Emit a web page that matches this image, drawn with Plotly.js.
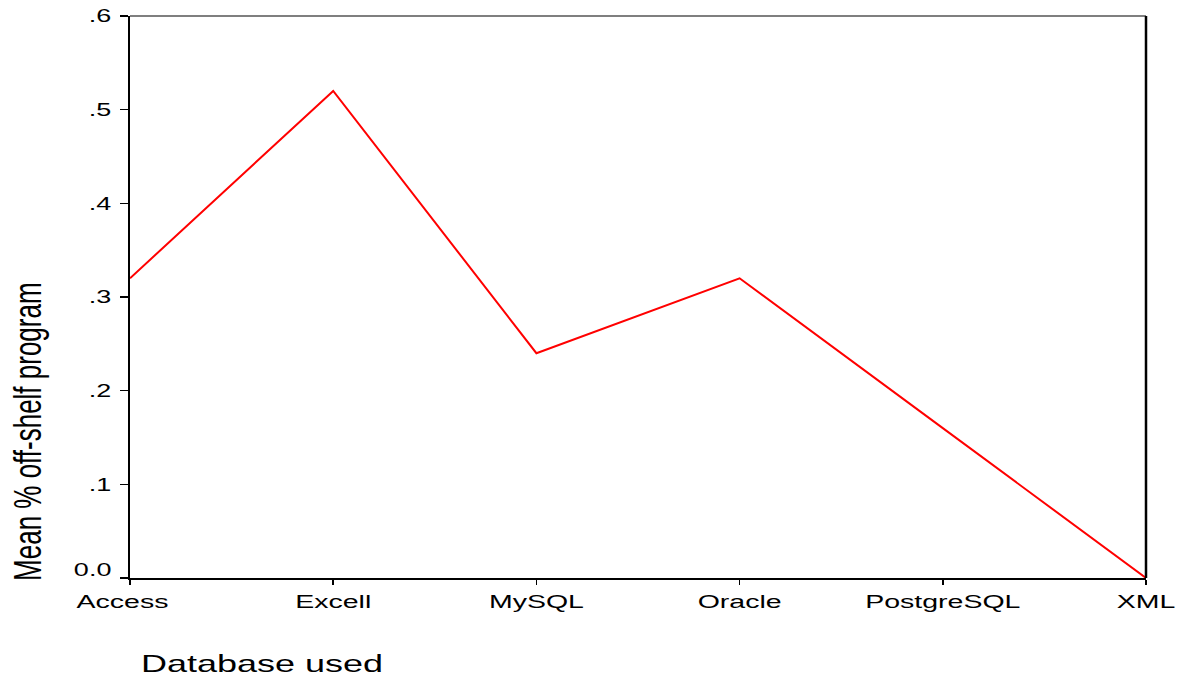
<!DOCTYPE html>
<html>
<head>
<meta charset="utf-8">
<script src="https://cdn.plot.ly/plotly-3.0.1.min.js"></script>
<style>html,body{margin:0;padding:0;background:#fff;}#chart{width:1184px;height:677px;}</style>
</head>
<body>
<div id="chart"></div>
<script>
const categories = ["Access", "Excell", "MySQL", "Oracle", "PostgreSQL", "XML"];
const meanValues = [0.32, 0.52, 0.24, 0.32, 0.16, 0.0];
const yTickVals = [0, 0.1, 0.2, 0.3, 0.4, 0.5, 0.6];
const yTickText = ["0.0", ".1", ".2", ".3", ".4", ".5", ".6"];
const xTitle = "Database used";
const yTitle = "Mean % off-shelf program";

const trace = {
  x: categories,
  y: meanValues,
  type: "scatter",
  mode: "lines",
  line: {color: "#ff0000", width: 2},
  cliponaxis: false,
  hoverinfo: "x+y"
};

const W = 1184, H = 677, L = 130, R = 38, T = 16, B = 99;
const PW = W - L - R, PH = H - T - B;

const layout = {
  width: W,
  height: H,
  margin: {l: L, r: R, t: T, b: B},
  paper_bgcolor: "#ffffff",
  plot_bgcolor: "#ffffff",
  showlegend: false,
  font: {family: "Liberation Sans, Arial, sans-serif", color: "#000", size: 18},
  xaxis: {
    type: "category",
    range: [0, 5],
    showgrid: false,
    zeroline: false,
    showline: true,
    linecolor: "#000",
    linewidth: 2,
    ticks: "outside",
    ticklen: 5,
    tickwidth: 1.5,
    tickcolor: "#000",
    tickfont: {size: 19},
    fixedrange: true
  },
  yaxis: {
    range: [0, 0.6],
    tickvals: yTickVals,
    ticktext: yTickText,
    showgrid: false,
    zeroline: false,
    showline: true,
    linecolor: "#000",
    linewidth: 2,
    ticks: "outside",
    ticklen: 8,
    tickwidth: 1.5,
    tickcolor: "#000",
    tickfont: {size: 18},
    ticklabelstandoff: 5,
    fixedrange: true
  },
  shapes: [
    {type: "line", xref: "paper", yref: "paper", x0: 0, x1: 1, y0: 1, y1: 1, line: {color: "#000", width: 1.2}},
    {type: "line", xref: "paper", yref: "paper", x0: 1, x1: 1, y0: 0, y1: 1, line: {color: "#000", width: 2.5}}
  ],
  annotations: [
    {text: xTitle, xref: "paper", yref: "paper", x: (139 - L) / PW, xanchor: "left",
     y: (T + PH - 663) / PH, yanchor: "middle", showarrow: false, font: {size: 24, color: "#000"}},
    {text: yTitle, xref: "paper", yref: "paper", x: (28 - L) / PW, xanchor: "center",
     y: (T + PH - 432) / PH, yanchor: "middle", textangle: -90, showarrow: false, font: {size: 26, color: "#000"}}
  ]
};

function stretch(el, sx, sy, ax) {
  const b = el.getBBox();
  const cx = ax === "left" ? b.x : (ax === "right" ? b.x + b.width : b.x + b.width / 2);
  const cy = b.y + b.height / 2;
  const t = el.getAttribute("transform") || "";
  el.setAttribute("transform", t + " translate(" + cx + "," + cy + ") scale(" + sx + "," + sy + ") translate(" + (-cx) + "," + (-cy) + ")");
}

Plotly.newPlot("chart", [trace], layout, {displayModeBar: false, staticPlot: true}).then(function (gd) {
  const S = 1.5;
  gd.querySelectorAll(".xtick text").forEach(function (el) {
    stretch(el, S, 1, "center");
    if (el.textContent === "Access") {
      el.setAttribute("transform", (el.getAttribute("transform") || "") + " translate(-5,0)");
    }
  });
  gd.querySelectorAll(".ytick text").forEach(function (el) {
    stretch(el, S, 1, "right");
    if (el.textContent === "0.0") {
      el.setAttribute("transform", (el.getAttribute("transform") || "") + " translate(0,-8)");
    }
  });
  gd.querySelectorAll(".annotation-text-g text").forEach(function (el) {
    if (el.textContent === xTitle) stretch(el, S, 1, "left");
    else if (el.textContent === yTitle) stretch(el, 1, S, "center");
  });
});
</script>
</body>
</html>
